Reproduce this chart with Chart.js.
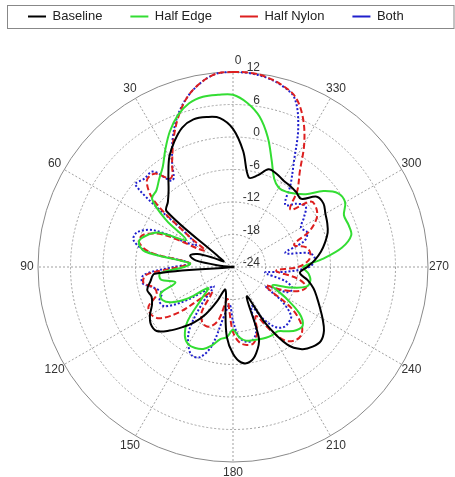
<!DOCTYPE html>
<html><head><meta charset="utf-8">
<script src="https://cdn.jsdelivr.net/npm/chart.js@4.4.1/dist/chart.umd.min.js"></script>
<style>html,body{margin:0;padding:0;background:#fff;}canvas{display:block;}</style>
</head><body>
<canvas id="c" width="455" height="477"></canvas>
<script>
// sample angles (degrees, counter-clockwise from top, as in the plot)
const sampleAngles = [0,5,10,15,20,25,30,35,40,45,50,55,60,65,70,75,80,85,90,95,
  100,105,110,115,120,125,130,135,140,145,150,155,160,165,170,175,180,185,190,195,
  200,205,210,215,220,225,230,235,240,245,250,255,260,265,270,275,280,285,290,295,
  300,305,310,315,320,325,330,335,340,345,350,355];
const angleTickLabels = [0,30,60,90,120,150,180,210,240,270,300,330];
const radialTicks = [-24,-18,-12,-6,0,6,12];
const seriesNames = ['Baseline','Half Edge','Half Nylon','Both'];

const baseline = [
  1.5, 3.6, 4.1, 4.2, 3.4, 1.6, -0.5, -3.2, -5.5, -7,
  -8, -21, -22, -20, -17, -15.8, -17, -22, -24, -9.5,
  -8.5, -7.6, -8, -7.5, -6.3, -5.5, -5.6, -7.4, -9.5, -11.5,
  -14, -17, -19.6, -19, -16, -11, -8, -6.3, -6.2, -7.5,
  -10, -18, -12, -6.5, -4.2, -3.2, -2.8, -3.5, -4.9, -6.3,
  -7.5, -8.6, -10, -11.6, -10.3, -8.8, -7.5, -6.4, -5.4, -4.8,
  -4.3, -3.6, -3.8, -6.2, -5.9, -5.7, -5.5, -5, -4.8, -6.5,
  -7.2, -2.5];
const halfEdge = [
  7.8, 7.9, 7.9, 7.3, 5.8, 3.6, 1.0, -1.4, -2.8, -4,
  -4.5, -9, -14, -9, -7, -6, -7.5, -16, -15, -10.5,
  -10.5, -13, -9.8, -9.6, -11, -14, -18, -16, -11, -8.5,
  -7.5, -7.5, -7.9, -9, -10.5, -11, -12.4, -11, -10.2, -10,
  -9.8, -9.6, -9.5, -9.5, -8.5, -7.5, -7.2, -9, -13, -16,
  -13, -10, -9.5, -10, -11, -7.5, -3.6, -1.4, -1.3, -1.4,
  -0.1, -0.3, -2.2, -5, -6.3, -7, -7.1, -6, -3.1, 0.8,
  4.2, 6.4];
const halfNylon = [
  12, 11.8, 10.5, 8.5, 5.5, 2, -1.5, -4, -1.5, -1.5,
  -5, -14, -18, -10, -6.5, -6, -8.5, -16, -14, -8,
  -7.2, -9, -9, -6.8, -6.5, -7.5, -11, -16, -18, -14,
  -12.5, -12, -12.4, -14, -18, -16, -12, -10, -9.4, -9.4,
  -11, -14, -11, -7.5, -6.3, -6.2, -7.5, -11, -17, -14,
  -11, -10, -12, -16, -12, -10, -9.5, -10, -12, -8.5,
  -6.2, -5.2, -5.2, -9, -5.5, -2.5, 2.3, 6.5, 9.5, 10.8,
  11.6, 12];
const both = [
  12, 11.8, 10.5, 8.5, 5.8, 2.3, -1.5, -4.5, -1, -0.9,
  -0.5, -14, -16, -8, -5.2, -5, -8, -16, -13, -7.5,
  -7, -9, -10, -9, -9.5, -13, -17, -19, -15, -10,
  -7.5, -6, -6.3, -9, -15, -17, -14, -11, -10, -10,
  -11.5, -16, -13, -10.5, -9.5, -9.5, -10, -13, -17, -13,
  -12.3, -14, -18, -14, -10, -8.8, -9.5, -14, -10, -8.9,
  -9.5, -8, -6.5, -7.5, -9, -5.5, -1.5, 4.5, 9.2, 10.7,
  11.5, 11.9];

const seriesValues = [baseline, halfEdge, halfNylon, both];
const seriesColors = ['#000000', '#33dd33', '#dd1f1f', '#1f1fcc'];
const seriesDash = [[], [], [6, 3], [2, 2]];

// radar draws clockwise from the top; the plot's angles run counter-clockwise
const n = sampleAngles.length;
const order = sampleAngles.map((_, i) => (n - i) % n);
const radarLabels = order.map(j => sampleAngles[j]);
const rMin = radialTicks[0], rMax = radialTicks[radialTicks.length - 1];

const datasets = seriesValues.map((vals, k) => ({
  label: seriesNames[k],
  data: order.map(j => Math.max(vals[j], rMin)),
  borderColor: seriesColors[k],
  backgroundColor: seriesColors[k],
  borderDash: seriesDash[k],
  borderWidth: 2,
  fill: false,
  pointRadius: 0,
  pointHoverRadius: 0,
  tension: 0.35
}));

const FONT = '"Liberation Sans", Arial, sans-serif';

const legendSpacer = {
  id: 'legendSpacer',
  beforeInit(chart) {
    const lg = chart.legend;
    const orig = lg.fit;
    lg.fit = function () { orig.call(this); this.height = 90; };
  }
};

const decorations = {
  id: 'decorations',
  beforeDatasetsDraw(chart) {
    const s = chart.scales.r, ctx = chart.ctx;
    ctx.save();
    ctx.font = '12px ' + FONT;
    ctx.fillStyle = '#333';
    ctx.textAlign = 'right';
    ctx.textBaseline = 'middle';
    radialTicks.forEach(v => {
      const d = s.getDistanceFromCenterForValue(v);
      ctx.fillText(String(v), s.xCenter + 27, s.yCenter - d - 4);
    });
    ctx.restore();
  },
  afterDraw(chart) {
    const s = chart.scales.r, ctx = chart.ctx;
    ctx.save();
    ctx.font = '12px ' + FONT;
    ctx.fillStyle = '#333';
    ctx.textAlign = 'center';
    ctx.textBaseline = 'middle';
    angleTickLabels.forEach(a => {
      const idx = radarLabels.indexOf(a);
      const p = s.getPointPosition(idx, s.drawingArea + 11);
      ctx.fillText(String(a), p.x + (a === 0 ? 5 : 0), p.y);
    });
    // legend frame
    const lg = chart.legend;
    const hb = lg.legendHitBoxes;
    if (hb && hb.length) {
      const cy = hb[0].top + hb[0].height / 2;
      const x0 = Math.round(hb[0].left - 21) + 0.5;
      ctx.strokeStyle = '#888';
      ctx.lineWidth = 1;
      ctx.strokeRect(x0, Math.round(cy - 12) + 0.5, chart.width - 1 - x0, 23);
    }
    ctx.restore();
  }
};

new Chart(document.getElementById('c'), {
  type: 'radar',
  data: { labels: radarLabels, datasets },
  options: {
    responsive: false,
    animation: false,
    events: [],
    layout: { padding: { top: -18, left: 0, right: 0, bottom: 15 } },
    plugins: {
      title: {
        display: true,
        position: 'left',
        text: ' ',
        padding: 0,
        font: { size: 10, lineHeight: 1.2 }
      },
      legend: {
        position: 'top',
        align: 'start',
        labels: {
          usePointStyle: true,
          pointStyle: 'line',
          pointStyleWidth: 18,
          padding: 28,
          color: '#222',
          font: { family: FONT, size: 13 }
        }
      },
      tooltip: { enabled: false }
    },
    scales: {
      r: {
        min: rMin,
        max: rMax,
        ticks: { stepSize: 6, display: false },
        pointLabels: { display: false },
        grid: {
          circular: true,
          color: c => c.index === radialTicks.length - 1 ? '#8a8a8a' : '#a0a0a0',
          lineWidth: 1
        },
        border: { dash: c => c.index === radialTicks.length - 1 ? [] : [2, 2] },
        angleLines: {
          display: true,
          color: '#a0a0a0',
          lineWidth: c => (radarLabels[c.index] % 30 === 0 ? 1 : 0),
          borderDash: [2, 2]
        }
      }
    }
  },
  plugins: [legendSpacer, decorations]
});
</script>
</body></html>
